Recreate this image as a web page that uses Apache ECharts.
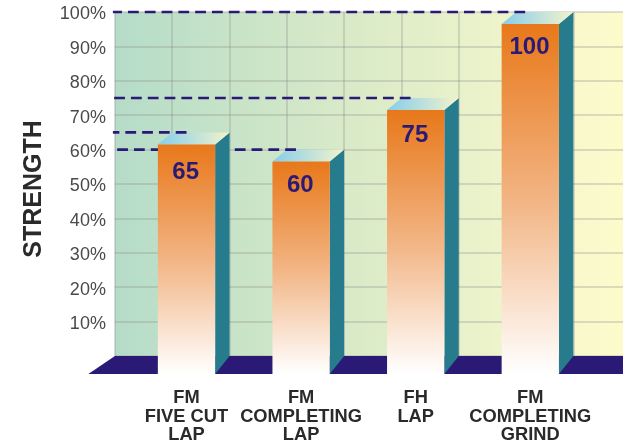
<!DOCTYPE html>
<html>
<head>
<meta charset="utf-8">
<style>
  html, body { margin: 0; padding: 0; background: #fff; }
  #chart { width: 623px; height: 443px; }
</style>
<script src="https://cdn.jsdelivr.net/npm/echarts@6/dist/echarts.min.js"></script>
</head>
<body>
<div id="chart"></div>
<script>
// Operations and their relative strength, in percent
var categories = ['FM\nFIVE CUT\nLAP', 'FM\nCOMPLETING\nLAP', 'FH\nLAP', 'FM\nCOMPLETING\nGRIND'];
var strength = [65, 60, 75, 100];

// Drop of each value label below the top edge of its bar
var labelDrop = [27.5, 23.5, 25, 23];

// Where each dashed leader stops, in wall grid units
var leaderTip = [1.25, 3.16, 5.16, 7.16];

// Extrusion of the bars, from the front plane back to the wall
var DEPTH_X = 14.4;
var DEPTH_Y = 12;
var FLOOR_DROP = 6;   // floor's front edge below the front plane's zero
var FLOOR_SKEW = 26.5;

var NAVY = '#2a1a75';
var TEXT_FONT = '"Liberation Sans", Arial, sans-serif';
var GRID_LINE = { color: 'rgba(140,140,140,0.38)', width: 1.5 };

function vGradient(stops) {
  return { type: 'linear', x: 0, y: 0, x2: 0, y2: 1, colorStops: stops };
}
function hGradient(stops) {
  return { type: 'linear', x: 0, y: 0, x2: 1, y2: 0, colorStops: stops };
}

// Dark floor strip along the foot of the wall
function renderFloor(params, api) {
  var a = api.coord([0, 0]);
  var right = params.coordSys.x + params.coordSys.width;
  return {
    type: 'polygon',
    shape: { points: [
      [a[0], a[1]],
      [right, a[1]],
      [right, a[1] + 18],
      [a[0] - FLOOR_SKEW, a[1] + 18]
    ] },
    style: { fill: NAVY }
  };
}

// Dashed leader from a bar's top back to the wall's left edge;
// drawn tip-first so every line ends on a whole dash
function renderLeader(params, api) {
  var idx = api.value(0);
  var v = api.value(1);
  var wall = api.coord([0, v]);
  var tip = api.coord([leaderTip[idx], v]);
  return {
    type: 'line',
    shape: { x1: tip[0], y1: tip[1], x2: wall[0] - 2, y2: wall[1] },
    style: { stroke: NAVY, lineWidth: 2.6, lineDash: [10.8, 6], fill: null }
  };
}

// Extruded bar: side face, top face, faded front face and value label
function renderBar(params, api) {
  var idx = api.value(0);
  var v = api.value(1);
  var top = api.coord([idx, v]);
  var zero = api.coord([idx, 0]);
  var w = api.size([1, 0])[0] / 2;
  var l = top[0] - w / 2;
  var r = top[0] + w / 2;
  var t = top[1];
  var b = zero[1] + FLOOR_DROP;
  return {
    type: 'group',
    children: [
      {
        type: 'polygon',
        shape: { points: [[r, t], [r + DEPTH_X, t - DEPTH_Y], [r + DEPTH_X, zero[1] - DEPTH_Y], [r, b]] },
        style: { fill: '#267b8c' }
      },
      {
        type: 'polygon',
        shape: { points: [[l, t], [l + DEPTH_X, t - DEPTH_Y], [r + DEPTH_X, t - DEPTH_Y], [r, t]] },
        style: { fill: hGradient([
          { offset: 0, color: '#86cdec' },
          { offset: 1, color: '#f3f3cb' }
        ]) }
      },
      {
        type: 'rect',
        shape: { x: l, y: t, width: r - l, height: b - t },
        style: { fill: vGradient([
          { offset: 0, color: '#e8781a' },
          { offset: 0.5, color: '#f2b483' },
          { offset: 1, color: '#ffffff' }
        ]) }
      },
      {
        type: 'text',
        style: {
          x: top[0] - 0.8,
          y: t + labelDrop[idx],
          text: String(v),
          fill: NAVY,
          font: 'bold 24px ' + TEXT_FONT,
          textAlign: 'center',
          textVerticalAlign: 'middle'
        }
      }
    ]
  };
}

// Bars stack right to left, each leader lying on its own bar but
// passing behind the bars further left.
var series = [
  { type: 'custom', xAxisIndex: 0, yAxisIndex: 0, z: 3, silent: true, data: [[0, 0]], renderItem: renderFloor }
];
strength.forEach(function (v, i) {
  var layer = 4 + (strength.length - 1 - i) * 2;
  series.push({ type: 'custom', xAxisIndex: 1, yAxisIndex: 1, z: layer, silent: true, data: [[i, v]], renderItem: renderBar });
  series.push({ type: 'custom', xAxisIndex: 0, yAxisIndex: 0, z: layer + 1, silent: true, data: [[i, v]], renderItem: renderLeader });
});

var chart = echarts.init(document.getElementById('chart'), null, { renderer: 'canvas' });
chart.setOption({
  animation: false,
  grid: [
    // Back wall, carrying the percent scale and the grid lines
    {
      left: 114.9, top: 12, width: 515.7, height: 344,
      outerBoundsMode: 'none',
      show: true,
      borderWidth: 0,
      backgroundColor: hGradient([
        { offset: 0, color: '#b5dcc8' },
        { offset: 0.45, color: '#d9eac8' },
        { offset: 0.98, color: '#fdfbcc' },
        { offset: 1, color: '#fdfbcc' }
      ])
    },
    // Front plane the bars stand on
    { left: 129.2, top: 24, width: 458.4, height: 344, outerBoundsMode: 'none' }
  ],
  xAxis: [
    {
      gridIndex: 0, type: 'value', min: 0, max: 9, interval: 1,
      axisLine: { show: false }, axisTick: { show: false }, axisLabel: { show: false },
      splitLine: { show: true, lineStyle: GRID_LINE }
    },
    {
      gridIndex: 1, type: 'category', data: categories,
      axisLine: { show: false }, axisTick: { show: false },
      splitLine: { show: false },
      axisLabel: {
        interval: 0, margin: 20.5,
        color: '#2a2a2a', fontFamily: TEXT_FONT, fontWeight: 'bold',
        fontSize: 18.3, lineHeight: 18.7, verticalAlign: 'top'
      }
    }
  ],
  yAxis: [
    {
      gridIndex: 0, type: 'value', min: 0, max: 100, interval: 10,
      name: 'STRENGTH', nameLocation: 'center', nameGap: 68,
      nameTextStyle: { color: '#2a2a2a', fontFamily: TEXT_FONT, fontWeight: 'bold', fontSize: 25, padding: [0, 10, 0, 0] },
      axisLine: { show: false }, axisTick: { show: false },
      axisLabel: {
        margin: 9, color: '#4a4a4a', fontFamily: TEXT_FONT, fontSize: 18,
        verticalAlign: 'top', lineHeight: 5,
        formatter: function (v) { return v === 0 ? '' : v + '%'; }
      },
      splitLine: { show: true, lineStyle: GRID_LINE }
    },
    {
      gridIndex: 1, type: 'value', min: 0, max: 100, show: false
    }
  ],
  series: series
});
</script>
</body>
</html>
